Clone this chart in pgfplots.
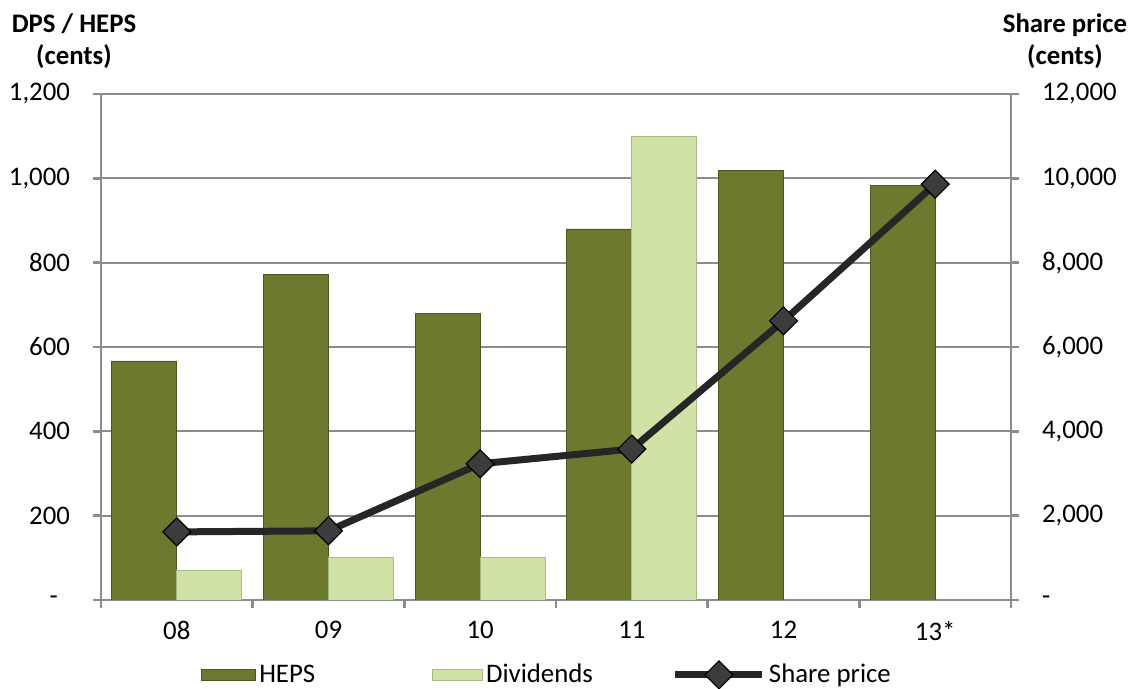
\documentclass[border=0pt]{standalone}
\usepackage{fontspec}
\setmainfont{Carlito}
\usepackage{pgfplots}
\pgfplotsset{compat=1.18}
\definecolor{hepsc}{HTML}{6B7A2F}
\definecolor{hepsd}{HTML}{4C5720}
\definecolor{divc}{HTML}{D0E2A6}
\definecolor{divd}{HTML}{A8BC82}
\definecolor{linec}{HTML}{262626}
\definecolor{gridc}{HTML}{8C8C8C}
\pgfplotsset{sharelegend/.style={legend image code/.code={\draw[mark repeat=2, mark phase=2, ##1] plot coordinates {(0pt,0pt) (21.75pt,0pt) (43.5pt,0pt)};}}}
\begin{document}
\begin{tikzpicture}
\useasboundingbox (-50.5pt,-44.5pt) rectangle (515pt,300pt);
\begin{axis}[
  scale only axis, width=455pt, height=253pt,
  at={(0pt,0pt)}, anchor=south west,
  font=\fontsize{13.4}{16}\selectfont,
  xmin=-0.5, xmax=5.5, ymin=0, ymax=1200,
  ybar=0pt, bar width=32.5pt,
  xtick={-0.5,0.5,...,5.5}, xticklabels={},
  extra x ticks={0,1,2,3,4,5},
  extra x tick labels={08,09,10,11,12,13*},
  extra x tick style={major tick length=0pt, grid=none},
  xtick pos=bottom, ytick pos=left,
  ytick={0,200,...,1200},
  yticklabels={{-\hspace*{6pt}},200,400,600,800,{1,000},{1,200}},
  tick align=outside, major tick length=4pt,
  ymajorgrids, major grid style={gridc, line width=1pt},
  axis line style={gridc, line width=1.2pt},
  tick style={gridc, line width=1.2pt},
  yticklabel style={xshift=-8pt},
  xticklabel style={yshift=-7pt},
]
\addplot[fill=hepsc, draw=hepsd] coordinates {(0,567) (1,771) (2,679) (3,880) (4,1018) (5,983)};
\addplot[fill=divc, draw=divd] coordinates {(0,70) (1,100) (2,100) (3,1100)};
\end{axis}
\begin{axis}[
  scale only axis, width=455pt, height=253pt,
  at={(0pt,0pt)}, anchor=south west,
  font=\fontsize{13.4}{16}\selectfont,
  xmin=-0.5, xmax=5.5, ymin=0, ymax=12000,
  hide x axis, scaled y ticks=false,
  ytick pos=right, yticklabel pos=right,
  ytick={0,2000,...,12000},
  yticklabels={-,{2,000},{4,000},{6,000},{8,000},{10,000},{12,000}},
  tick align=outside, major tick length=4pt,
  axis line style={gridc, line width=1.2pt},
  tick style={gridc, line width=1.2pt},
  yticklabel style={xshift=8pt},
  legend columns=3,
  legend style={draw=none, fill=none, at={(0.11,-0.148)}, anchor=west,
    inner sep=0pt, font=\fontsize{13.4}{16}\selectfont,
    nodes={inner xsep=1.5pt, inner ysep=1pt},
    /tikz/column 2/.style={column sep=57pt},
    /tikz/column 4/.style={column sep=38pt}},
]
\addlegendimage{legend image code/.code={\draw[fill=hepsc, draw=hepsd] (0pt,-2.75pt) rectangle (27pt,2.75pt);}}
\addlegendentry{HEPS}
\addlegendimage{legend image code/.code={\draw[fill=divc, draw=divd] (0pt,-2.75pt) rectangle (25pt,2.75pt);}}
\addlegendentry{Dividends}
\addplot[linec, line width=3.5pt, mark=diamond*, mark size=7pt,
  mark options={xscale=1.33, fill=linec!90!white, draw=black, line width=0.6pt},
  sharelegend]
  coordinates {(0,1615) (1,1640) (2,3230) (3,3580) (4,6620) (5,9860)};
\addlegendentry{Share price}
\end{axis}
\node[font=\fontsize{13.4}{16}\selectfont\bfseries, align=center] at (-13.5pt,279.5pt) {DPS / HEPS\\(cents)};
\node[font=\fontsize{13.4}{16}\selectfont\bfseries, align=center] at (482pt,279.5pt) {Share price\\(cents)};
\end{tikzpicture}
\end{document}
